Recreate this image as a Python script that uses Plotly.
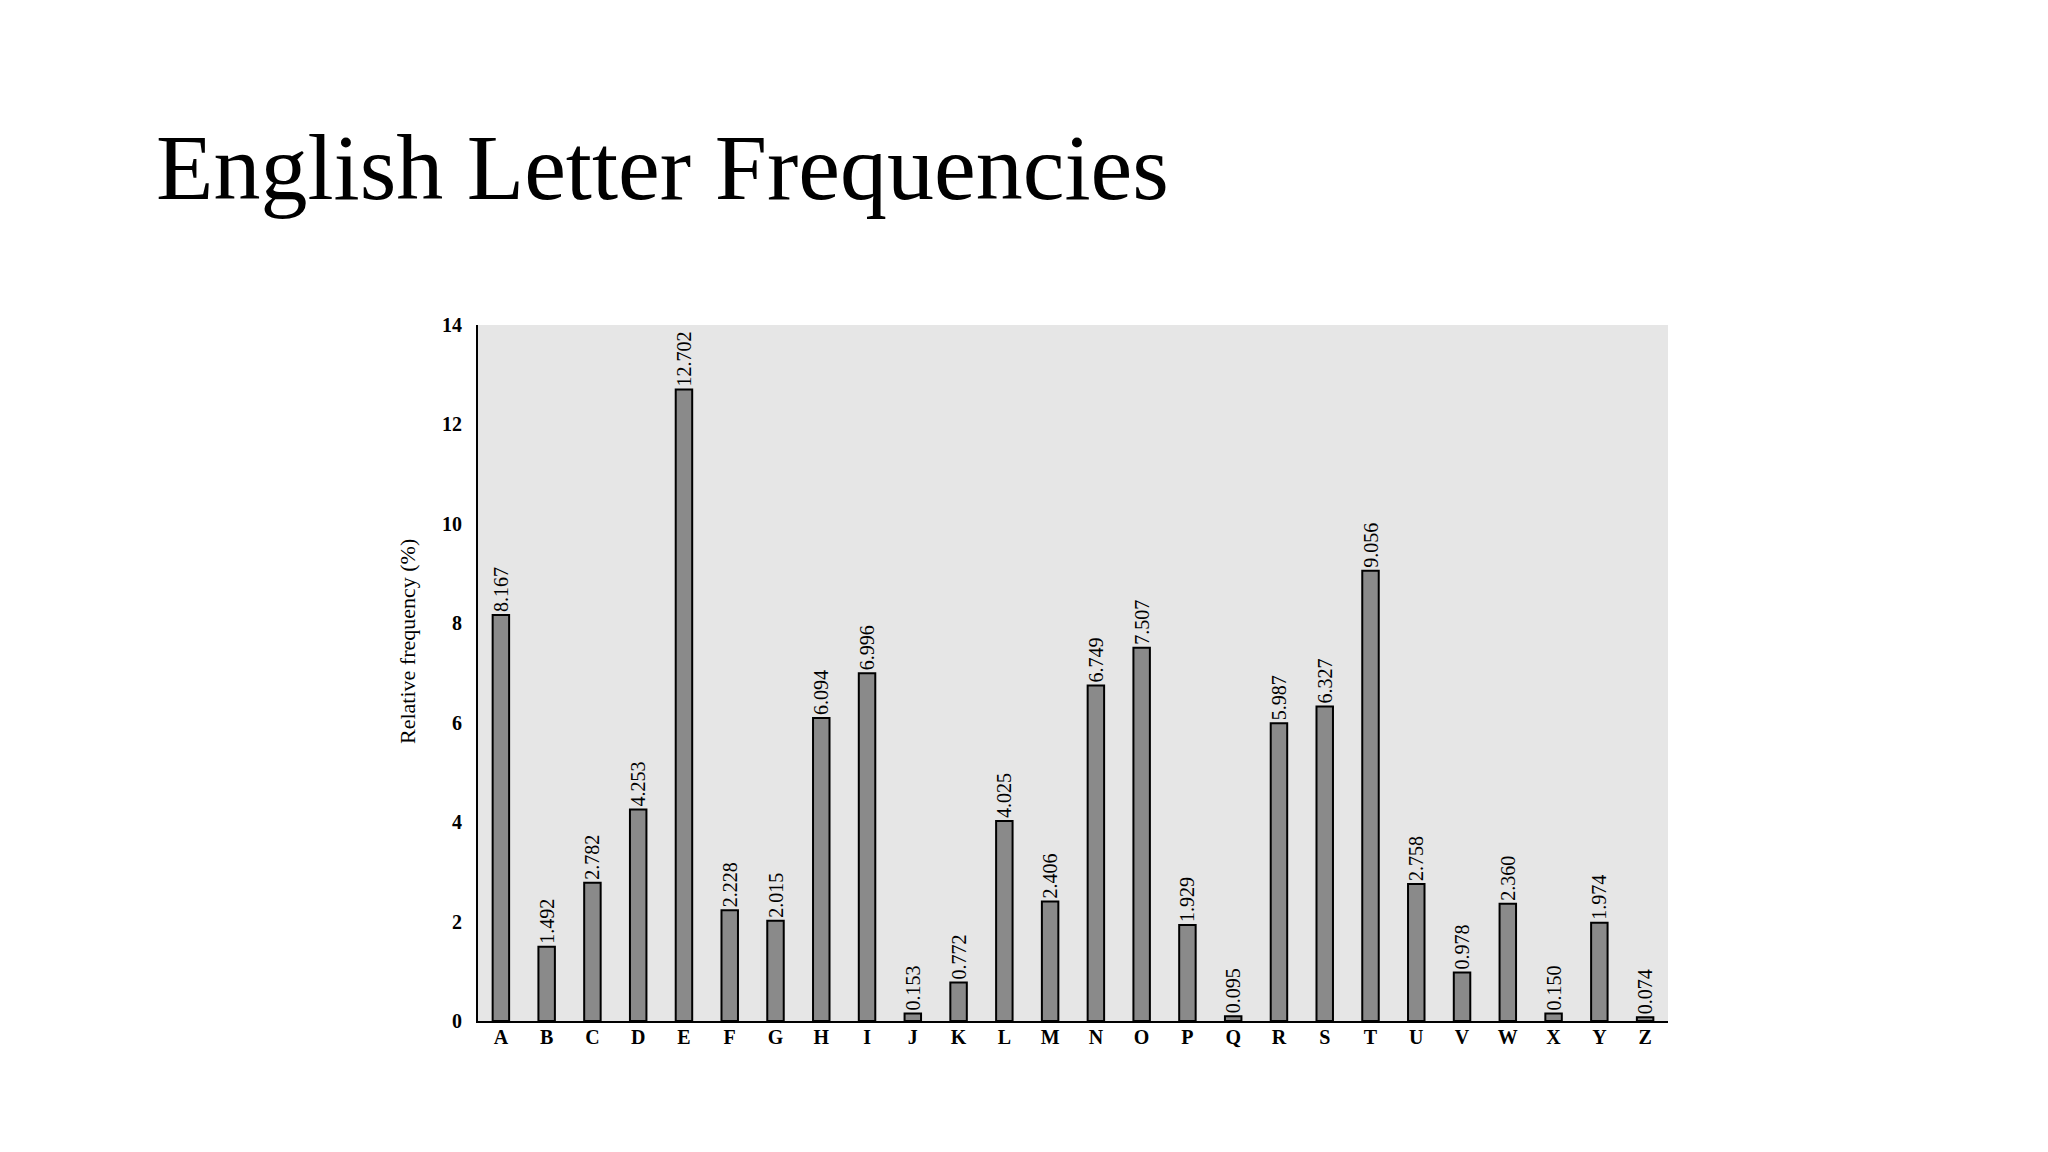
import plotly.graph_objects as go

letters = list("ABCDEFGHIJKLMNOPQRSTUVWXYZ")
freqs = [8.167, 1.492, 2.782, 4.253, 12.702, 2.228, 2.015, 6.094, 6.996, 0.153,
         0.772, 4.025, 2.406, 6.749, 7.507, 1.929, 0.095, 5.987, 6.327, 9.056,
         2.758, 0.978, 2.360, 0.150, 1.974, 0.074]
labels = [f"{v:.3f}" for v in freqs]
y_ticks = [0, 2, 4, 6, 8, 10, 12, 14]

serif = "Liberation Serif, Times New Roman, serif"

L, R, T, B = 470, 388, 317, 139
PW = 2048 - L - R
PH = 1152 - T - B

fig = go.Figure(go.Bar(
    x=letters, y=freqs, text=labels,
    textposition="outside", textangle=-90, constraintext="none",
    cliponaxis=False,
    textfont=dict(family=serif, size=20, color="black"),
    marker=dict(color="#8a8a8a", line=dict(color="black", width=2)),
    width=0.36,
))

fig.update_layout(
    width=2048, height=1152,
    paper_bgcolor="white", plot_bgcolor="#e6e6e6",
    margin=dict(l=L, r=R, t=T, b=B),
    showlegend=False,
    annotations=[
        dict(text="English Letter Frequencies", xref="paper", yref="paper",
             x=(146 - L) / PW, y=1 + (T - 213) / PH,
             xanchor="left", yanchor="bottom", showarrow=False,
             font=dict(family=serif, size=94, color="black")),
        dict(text="Relative frequency (%)", xref="paper", yref="paper",
             x=(399 - L) / PW, y=1 - (634 - T) / PH, textangle=-90,
             xanchor="center", yanchor="middle", showarrow=False,
             font=dict(family=serif, size=22, color="black")),
    ],
)
fig.update_yaxes(
    range=[0, 14], tickvals=y_ticks, showgrid=False, zeroline=False,
    showline=True, linecolor="black", linewidth=2, ticks="",
    ticklabelstandoff=10,
    tickfont=dict(family=serif, size=20, color="black", weight="bold"),
)
fig.update_xaxes(
    range=[-0.5, 25.5], showgrid=False, showline=True, linecolor="black",
    linewidth=2, ticks="", ticklabelstandoff=-3,
    tickfont=dict(family=serif, size=20, color="black", weight="bold"),
)

fig.write_html("out.html")
